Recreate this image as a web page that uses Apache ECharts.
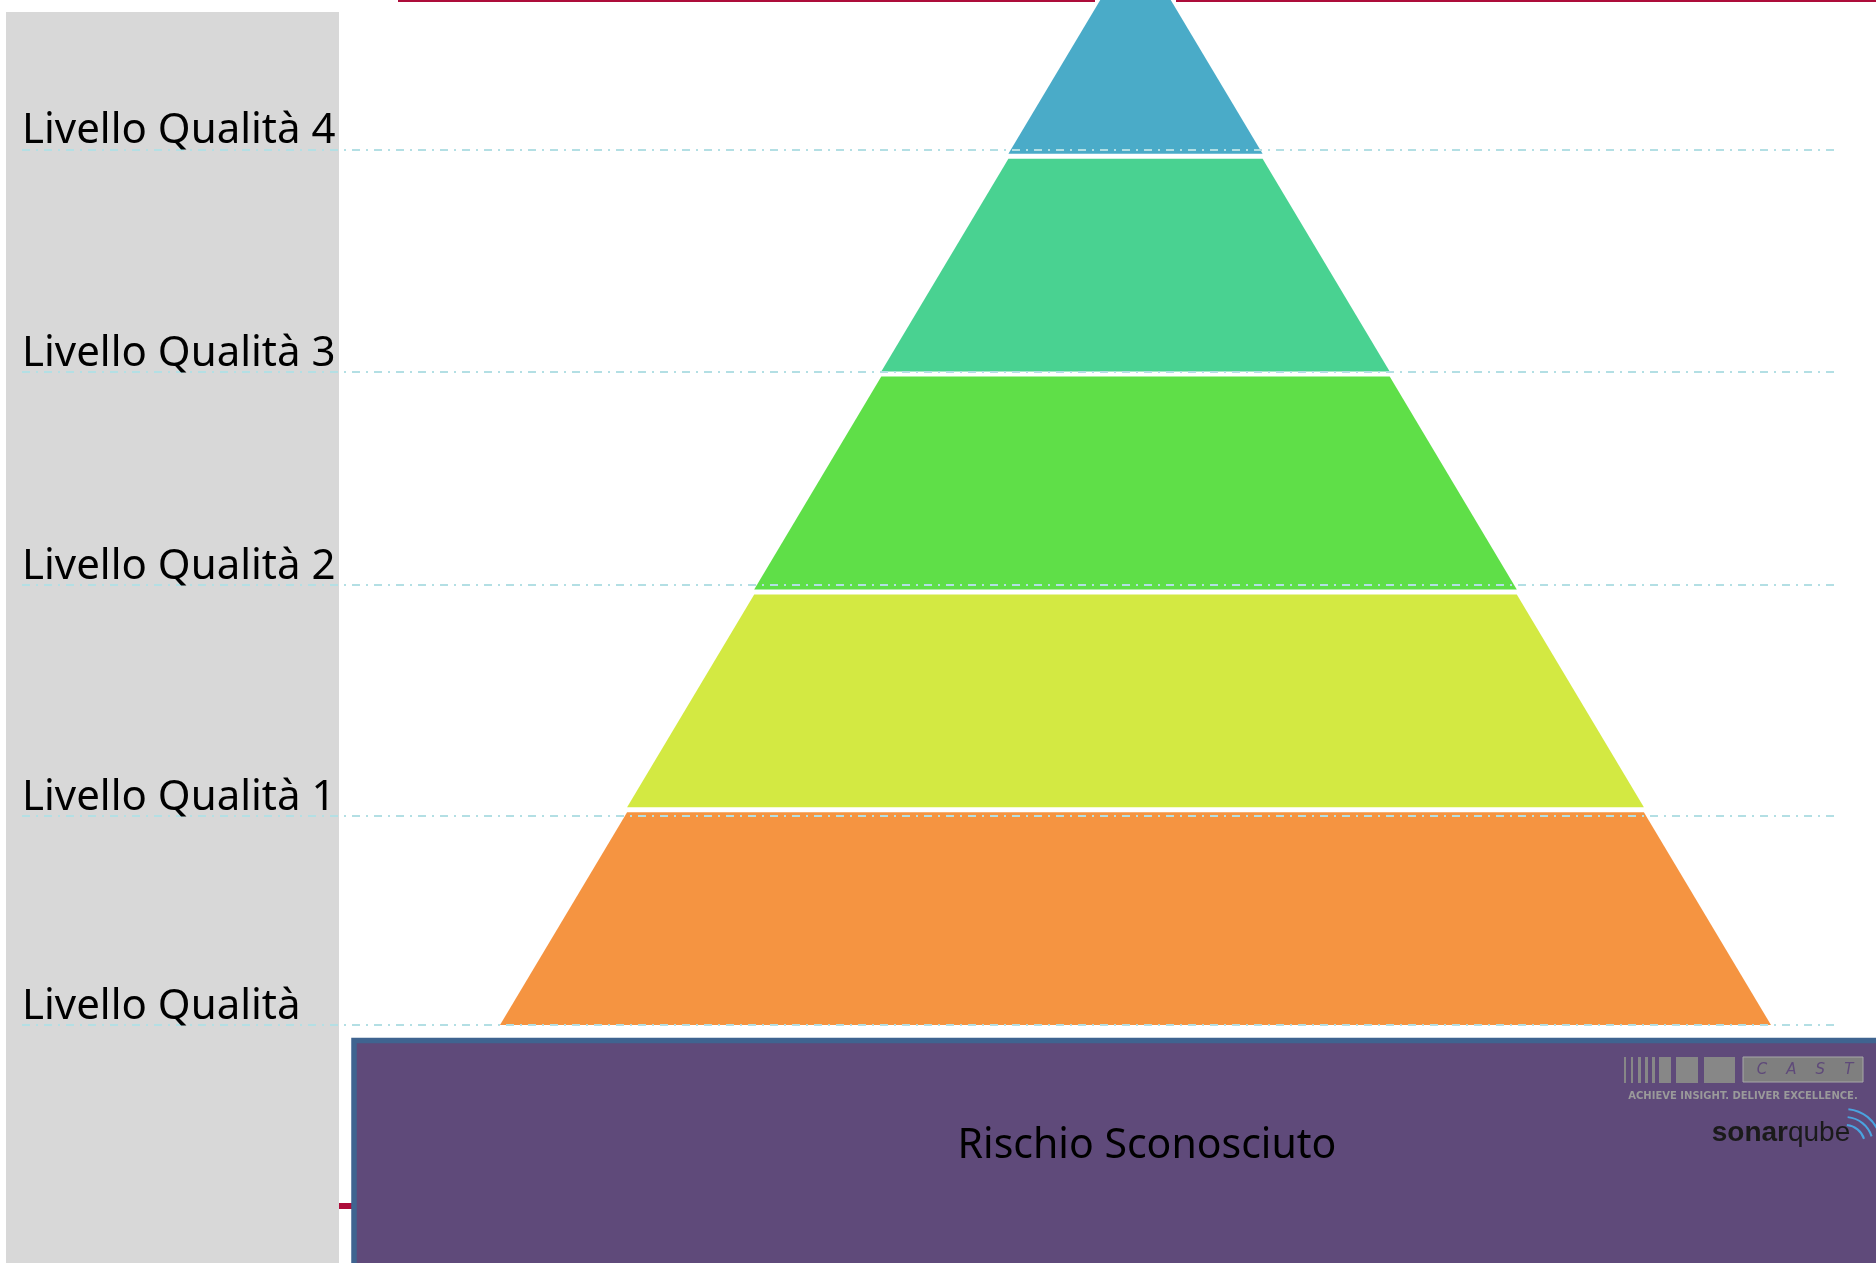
<!DOCTYPE html>
<html>
<head>
<meta charset="utf-8">
<script src="https://cdn.jsdelivr.net/npm/echarts@6/dist/echarts.min.js"></script>
<style>
  html, body { margin: 0; padding: 0; background: #ffffff; }
  #chart { width: 1876px; height: 1263px; }
</style>
</head>
<body>
<div id="chart"></div>
<script>
// ---- data ----
const levelNames = ['Livello Qualità', 'Livello Qualità 1', 'Livello Qualità 2', 'Livello Qualità 3', 'Livello Qualità 4'];
const levelValues = [5, 4, 3, 2, 1];               // pyramid width of each level (bottom -> top)
const levelColors = ['#f59441', '#d3e942', '#5fdf48', '#49d291', '#4aabc8'];
const levelLinePos = [0, 0.96, 2.02, 3.0, 4.02];    // guide lines, in level units from the base
const baseLabel = 'Rischio Sconosciuto';
const taglineText = 'ACHIEVE INSIGHT. DELIVER EXCELLENCE.';

const chart = echarts.init(document.getElementById('chart'), null, { renderer: 'canvas' });

const funnelData = levelNames.map((n, i) => ({
  name: n,
  value: levelValues[i],
  itemStyle: { color: levelColors[i] }
}));

const lineData = levelNames.map((n, i) => ({ name: n, yAxis: levelLinePos[i] }));

const barRects = [
  [1624, 2], [1631, 2], [1638, 3], [1645, 3], [1652, 3], [1659, 12], [1676, 22], [1704, 31]
].map(b => ({ type: 'rect', z: 11, shape: { x: b[0], y: 1057, width: b[1], height: 26 }, style: { fill: '#878787' } }));

const waveArcs = [20, 28, 36].map(r => ({
  type: 'arc', z: 11,
  shape: { cx: 1845, cy: 1145, r: r, startAngle: -Math.PI * 0.47, endAngle: -Math.PI * 0.1 },
  style: { stroke: '#4aa3df', lineWidth: 2, fill: null }
}));

const option = {
  backgroundColor: '#ffffff',
  animation: false,
  grid: { left: 22, right: 40, top: 0, bottom: 238 },
  xAxis: { type: 'value', min: 0, max: 1, show: false },
  yAxis: { type: 'value', min: 0, max: 4.706, show: false },
  graphic: [
    { type: 'rect', z: 0, shape: { x: 6, y: 12, width: 333, height: 1260 }, style: { fill: '#d8d8d8' } },
    { type: 'rect', z: 0, shape: { x: 398, y: 0, width: 697, height: 2 }, style: { fill: '#ad0d3a' } },
    { type: 'rect', z: 0, shape: { x: 1176, y: 0, width: 700, height: 2 }, style: { fill: '#ad0d3a' } },
    { type: 'rect', z: 0, shape: { x: 339, y: 1203, width: 14, height: 6 }, style: { fill: '#ad0d3a' } },
    { type: 'rect', z: 10, shape: { x: 354, y: 1040.5, width: 1530, height: 240 },
      style: { fill: '#5f4a7a', stroke: '#3f6490', lineWidth: 5.5 } },
    { type: 'text', z: 11, x: 1147, y: 1146,
      style: { text: baseLabel, fill: '#000000', font: '41px "Noto Sans"', textAlign: 'center', textVerticalAlign: 'middle' } },
    // CAST logo
    ...barRects,
    { type: 'rect', z: 11, shape: { x: 1743, y: 1057, width: 120, height: 25 }, style: { fill: '#7f7f7f', stroke: '#a8a8a8', lineWidth: 1 } },
    { type: 'text', z: 12, x: 1805, y: 1070,
      style: { text: 'C    A    S    T', fill: '#5f4a7a', font: 'italic 15px "DejaVu Sans"', textAlign: 'center', textVerticalAlign: 'middle' } },
    { type: 'text', z: 11, x: 1743, y: 1096,
      style: { text: taglineText, fill: '#9a9a9a', font: 'bold 10px "DejaVu Sans"', textAlign: 'center', textVerticalAlign: 'middle' } },
    // sonarqube logo
    { type: 'text', z: 11, x: 1781, y: 1133,
      style: { text: '{a|sonar}{b|qube}', textAlign: 'center', textVerticalAlign: 'middle',
        rich: {
          a: { fill: '#1a1a1a', font: 'bold 28px "Liberation Sans"' },
          b: { fill: '#1a1a1a', font: '28px "Liberation Sans"' }
        } } },
    ...waveArcs
  ],
  series: [
    {
      type: 'funnel',
      z: 2,
      sort: 'ascending',
      left: 500,
      width: 1271,
      top: -59,
      height: 1084,
      min: 0,
      max: 5,
      minSize: '0%',
      maxSize: '100%',
      gap: 5,
      funnelAlign: 'center',
      silent: true,
      label: { show: false },
      labelLine: { show: false },
      itemStyle: { borderWidth: 0 },
      data: funnelData
    },
    {
      type: 'line',
      z: 5,
      data: [],
      symbol: 'none',
      silent: true,
      markLine: {
        silent: true,
        symbol: 'none',
        animation: false,
        lineStyle: { color: '#b3dfe4', width: 2, type: [8, 6, 2, 6] },
        label: {
          show: true,
          position: 'insideStartTop',
          formatter: '{b}',
          color: '#000000',
          fontSize: 42,
          fontFamily: 'Noto Sans',
          distance: [0, -3]
        },
        emphasis: { disabled: true },
        data: lineData
      }
    }
  ]
};

chart.setOption(option);
</script>
</body>
</html>
